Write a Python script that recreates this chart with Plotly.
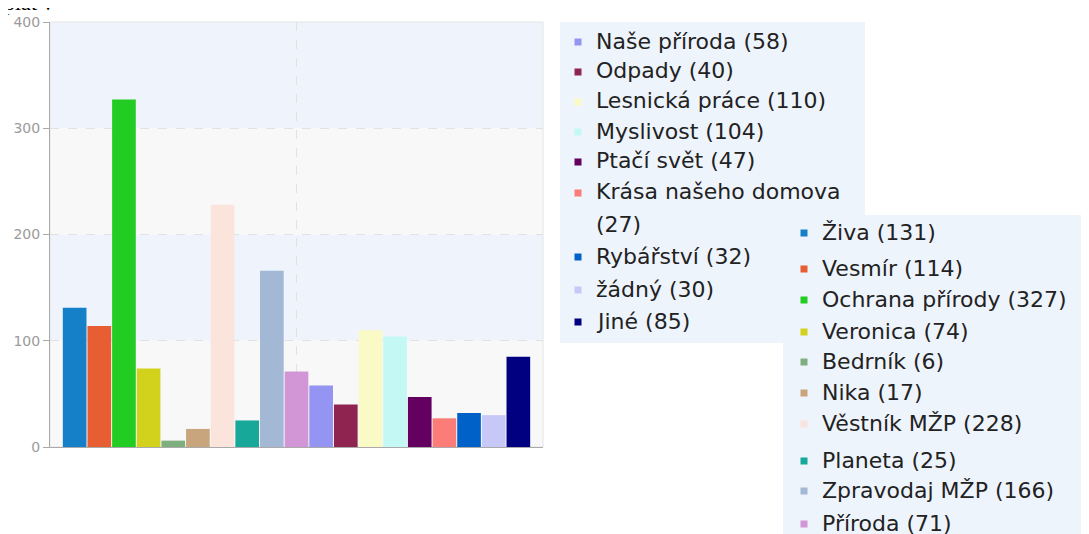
import plotly.graph_objects as go

W, H = 1089, 534
OFF = 8  # page body margin

categories = ["Živa", "Vesmír", "Ochrana přírody", "Veronica", "Bedrník", "Nika",
              "Věstník MŽP", "Planeta", "Zpravodaj MŽP", "Příroda", "Naše příroda",
              "Odpady", "Lesnická práce", "Myslivost", "Ptačí svět",
              "Krása našeho domova", "Rybářství", "žádný", "Jiné"]
values = [131, 114, 327, 74, 6, 17, 228, 25, 166, 71, 58, 40, 110, 104, 47, 27, 32, 30, 85]
colors = ["#1580c8", "#e65e32", "#22cc22", "#d2d21c", "#7fae7f", "#c8a57c",
          "#fbe4dc", "#18a89a", "#a3b8d4", "#d296d6", "#9494f2", "#8f2451",
          "#fafac6", "#c4f8f4", "#630060", "#fc7c78", "#0062c8", "#c8c8f8", "#000080"]
y_ticks = [0, 100, 200, 300, 400]

# legend split: first box (upper-left) holds items 10..18, second box holds 0..9
legend1_idx = list(range(10, 19))
legend2_idx = list(range(0, 10))


def px(x):
    return (x - OFF) / W


def py(y):
    return 1 - (y - OFF) / H


fig = go.Figure()
fig.add_trace(go.Bar(
    x=list(range(len(categories))), y=values,
    marker=dict(color=colors, line=dict(width=0)),
    hovertext=categories, showlegend=False,
))

shapes = []
band_cols = ["#f8f8f8", "#eef3fc", "#f8f8f8", "#eef3fc"]
for i in range(4):
    shapes.append(dict(type="rect", xref="paper", yref="y",
                       x0=px(50), x1=px(543), y0=y_ticks[i], y1=y_ticks[i + 1],
                       fillcolor=band_cols[i], line=dict(width=0), layer="below"))
shapes.append(dict(type="rect", xref="paper", yref="paper",
                   x0=px(50), x1=px(543), y0=py(447), y1=py(22),
                   line=dict(color="#e4e4e4", width=1), layer="below"))

annotations = []
annotations.append(dict(text="plat v", xref="paper", yref="paper", x=px(2), y=py(17),
                        xanchor="left", yanchor="bottom", showarrow=False,
                        font=dict(family="Liberation Serif", size=22, color="#000")))

font_legend = dict(family="DejaVu Sans", size=22, color="#222")


def add_legend_row(x_marker, x_text, r, color, label):
    if color is not None:
        shapes.append(dict(type="rect", xref="paper", yref="paper",
                           x0=px(x_marker - 3.5), x1=px(x_marker + 3.5),
                           y0=py(r + 4.5), y1=py(r - 2.5),
                           fillcolor=color, line=dict(width=0)))
    annotations.append(dict(text=label, xref="paper", yref="paper", x=px(x_text), y=py(r),
                            xanchor="left", yanchor="middle", showarrow=False,
                            font=font_legend))


# legend box 1
shapes.append(dict(type="rect", xref="paper", yref="paper",
                   x0=px(560), x1=px(865), y0=py(343), y1=py(22),
                   fillcolor="#eef4fc", line=dict(width=0)))
rows1 = [41, 71, 101, 131, 161, 192, 256, 289, 321]
for r, i in zip(rows1, legend1_idx):
    if categories[i] == "Krása našeho domova":
        add_legend_row(578, 594, r, colors[i], categories[i])
        add_legend_row(578, 594, r + 32, None, f"({values[i]})")
    else:
        add_legend_row(578, 594, r, colors[i], f"{categories[i]} ({values[i]})")

# legend box 2
shapes.append(dict(type="rect", xref="paper", yref="paper",
                   x0=px(783), x1=px(1100), y0=py(545), y1=py(215),
                   fillcolor="#eef4fc", line=dict(width=0)))
rows2 = [232, 268, 299, 331, 361, 392, 423, 460, 490, 523]
for r, i in zip(rows2, legend2_idx):
    add_legend_row(804, 820, r, colors[i], f"{categories[i]} ({values[i]})")

fig.update_layout(
    width=W, height=H,
    margin=dict(l=0, r=0, t=0, b=0),
    paper_bgcolor="white", plot_bgcolor="rgba(0,0,0,0)",
    bargap=0.04,
    shapes=shapes, annotations=annotations,
    xaxis=dict(domain=[px(50), px(543)], range=[-1, len(categories)],
               tickvals=[(len(categories) - 1) / 2], ticktext=[""], ticks="",
               showgrid=True, gridcolor="#e2e2e2", griddash="dash", gridwidth=1,
               showline=True, linecolor="#aaaaaa", linewidth=1, zeroline=False,
               automargin=False, fixedrange=True),
    yaxis=dict(domain=[py(447), py(22)], range=[0, 400], tickvals=y_ticks,
               ticks="outside", ticklen=6, tickcolor="#aaaaaa",
               tickfont=dict(family="DejaVu Sans", size=14, color="#9a9a9a"),
               showgrid=True, gridcolor="#e2e2e2", griddash="dash", gridwidth=1,
               showline=True, linecolor="#aaaaaa", linewidth=1, zeroline=False,
               automargin=False, fixedrange=True),
)

fig.write_html("out.html")
